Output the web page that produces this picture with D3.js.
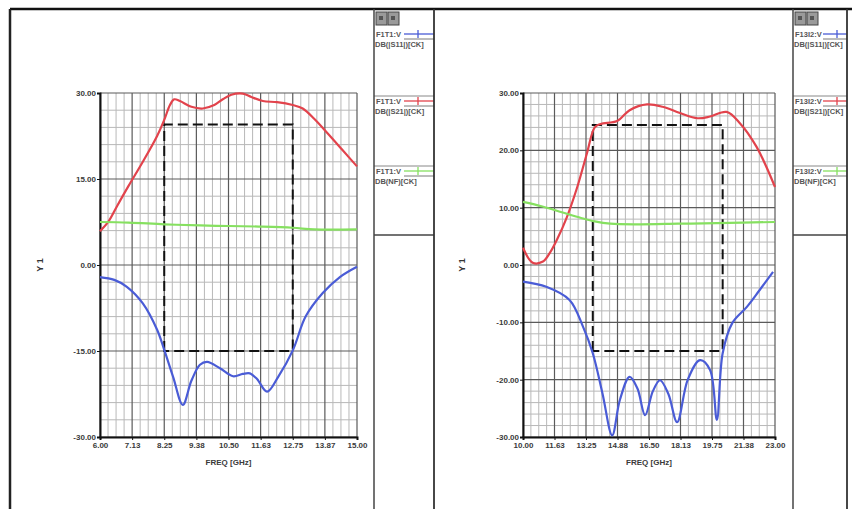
<!DOCTYPE html>
<html><head><meta charset="utf-8">
<script src="https://cdn.jsdelivr.net/npm/d3@7"></script>
<style>body{margin:0;background:#fff}svg{display:block}text{font-family:"Liberation Sans",Arial,sans-serif}</style>
</head><body><svg id="c" width="852" height="509"></svg>
<script>
// ---------- DATA ----------
const leftXTicks = [6, 7.125, 8.25, 9.375, 10.5, 11.625, 12.75, 13.875, 15];
const leftXLabels = ["6.00","7.13","8.25","9.38","10.50","11.63","12.75","13.87","15.00"];
const leftYTicks = [30, 15, 0, -15, -30];
const leftYLabels = ["30.00","15.00","0.00","-15.00","-30.00"];
const rightXTicks = [10, 11.625, 13.25, 14.875, 16.5, 18.125, 19.75, 21.375, 23];
const rightXLabels = ["10.00","11.63","13.25","14.88","16.50","18.13","19.75","21.38","23.00"];
const rightYTicks = [30, 20, 10, 0, -10, -20, -30];
const rightYLabels = ["30.00","20.00","10.00","0.00","-10.00","-20.00","-30.00"];

// left chart series [freq GHz, dB]
const leftS21 = [[6.0,5.9],[6.3,7.6],[6.6,10.3],[7.0,13.8],[7.5,18.0],[8.0,22.5],[8.25,25.3],[8.45,27.9],[8.6,28.9],[8.8,28.6],[9.2,27.6],[9.6,27.3],[10.0,27.9],[10.3,28.9],[10.6,29.7],[11.0,29.9],[11.3,29.3],[11.7,28.6],[12.2,28.4],[12.75,27.9],[13.1,27.3],[13.5,25.5],[14.0,22.8],[14.5,20.0],[15.0,17.2]];
const leftS11 = [[6.0,-2.1],[6.5,-2.6],[6.94,-3.8],[7.5,-6.7],[8.0,-11.3],[8.25,-14.8],[8.56,-19.5],[8.9,-24.4],[9.2,-20.2],[9.5,-17.4],[9.75,-16.9],[10.2,-18.0],[10.66,-19.4],[11.0,-19.0],[11.25,-18.9],[11.5,-19.9],[11.85,-22.1],[12.24,-19.5],[12.76,-14.8],[13.2,-9.0],[13.8,-4.9],[14.4,-2.1],[15.0,-0.3]];
const leftNF = [[6.0,7.5],[7.0,7.4],[8.25,7.1],[9.5,6.9],[10.5,6.8],[11.6,6.7],[12.75,6.5],[13.5,6.2],[15.0,6.2]];
const leftMaskX = [8.25, 12.75];
const leftMaskY = [-15, 24.5];

// right chart series
const rightS21 = [[10.0,3.0],[10.5,0.4],[11.03,0.6],[11.4,2.2],[11.75,4.4],[12.27,8.4],[12.8,13.6],[13.3,19.5],[13.7,24.0],[14.0,24.6],[14.85,25.1],[15.5,27.0],[16.4,28.0],[17.2,27.6],[18.1,26.5],[19.0,25.6],[19.65,25.9],[20.5,26.7],[21.2,24.7],[22.05,20.6],[23.0,13.6]];
const rightS11 = [[10.0,-2.9],[11.2,-3.8],[12.4,-6.1],[13.1,-10.8],[13.6,-15.4],[14.1,-22.4],[14.6,-29.7],[15.0,-23.5],[15.5,-19.5],[15.9,-21.5],[16.3,-26.2],[16.7,-22.0],[17.07,-20.1],[17.5,-22.5],[17.95,-27.4],[18.5,-20.0],[19.13,-16.6],[19.65,-18.3],[20.0,-27.0],[20.3,-15.4],[20.8,-10.1],[21.55,-7.3],[22.2,-4.4],[22.9,-1.2]];
const rightNF = [[10.0,11.0],[11.0,10.2],[12.0,9.2],[13.0,8.2],[13.7,7.6],[14.5,7.2],[16.0,7.1],[18.0,7.2],[20.0,7.3],[23.0,7.5]];
const rightMaskX = [13.6, 20.3];
const rightMaskY = [-15, 24.4];

const legendLeft = [["F1T1:V","DB(|S11|)[CK]"],["F1T1:V","DB(|S21|)[CK]"],["F1T1:V","DB(NF)[CK]"]];
const legendRight = [["F13I2:V","DB(|S11|)[CK]"],["F13I2:V","DB(|S21|)[CK]"],["F13I2:V","DB(NF)[CK]"]];
const seriesColors = ["#4a5cd6","#e2434c","#86e060"];

// ---------- DRAW ----------
const svg = d3.select("#c");
svg.append("rect").attr("width",852).attr("height",509).attr("fill","#fff");

function chart(cfg){
  const g = svg.append("g");
  const x = d3.scaleLinear().domain(cfg.xDomain).range([cfg.x0, cfg.x1]);
  const y = d3.scaleLinear().domain([-30,30]).range([cfg.y1, cfg.y0]);
  const xt = cfg.xTicks, yt = cfg.yTicks.slice().sort((a,b)=>a-b);
  const xMinor = [], yMinor = [];
  for(let i=0;i<xt.length-1;i++) for(let k=1;k<4;k++) xMinor.push(xt[i]+(xt[i+1]-xt[i])*k/4);
  for(let i=0;i<yt.length-1;i++) for(let k=1;k<5;k++) yMinor.push(yt[i]+(yt[i+1]-yt[i])*k/5);
  g.selectAll(".xm").data(xMinor).join("line").attr("x1",d=>x(d)).attr("x2",d=>x(d)).attr("y1",cfg.y0).attr("y2",cfg.y1).attr("stroke","#b8b8b8").attr("stroke-width",1);
  g.selectAll(".ym").data(yMinor).join("line").attr("y1",d=>y(d)).attr("y2",d=>y(d)).attr("x1",cfg.x0).attr("x2",cfg.x1).attr("stroke","#b8b8b8").attr("stroke-width",1);
  g.selectAll(".xM").data(xt).join("line").attr("x1",d=>x(d)).attr("x2",d=>x(d)).attr("y1",cfg.y0).attr("y2",cfg.y1).attr("stroke","#5a5a5a").attr("stroke-width",1.2);
  g.selectAll(".yM").data(yt).join("line").attr("y1",d=>y(d)).attr("y2",d=>y(d)).attr("x1",cfg.x0).attr("x2",cfg.x1).attr("stroke","#5a5a5a").attr("stroke-width",1.2);
  const ax = d3.axisBottom(x).tickValues(xt).tickFormat((d,i)=>cfg.xLabels[i]).tickSize(3).tickPadding(2);
  const ay = d3.axisLeft(y).tickValues(cfg.yTicks).tickFormat((d,i)=>cfg.yLabels[i]).tickSize(3).tickPadding(1);
  const gx = g.append("g").attr("transform",`translate(0,${cfg.y1})`).call(ax);
  const gy = g.append("g").attr("transform",`translate(${cfg.x0},0)`).call(ay);
  [gx,gy].forEach(a=>{
    a.select(".domain").attr("stroke","#111").attr("stroke-width",2);
    a.selectAll(".tick line").attr("stroke","#111");
    a.selectAll("text").attr("font-size",8).attr("font-weight","bold").attr("fill","#3a3a3a").style("font-family","'Liberation Sans',Arial,sans-serif");
  });
  g.append("text").attr("x",(cfg.x0+cfg.x1)/2).attr("y",cfg.y1+28).attr("text-anchor","middle").attr("font-size",8).attr("font-weight","bold").attr("fill","#3a3a3a").text("FREQ [GHz]");
  g.append("text").attr("transform",`translate(${cfg.yTitleX},${(cfg.y0+cfg.y1)/2}) rotate(-90)`).attr("text-anchor","middle").attr("font-size",9).attr("font-weight","bold").attr("fill","#333").text("Y 1");
  const mx = cfg.maskX, my = cfg.maskY;
  g.append("path").attr("d",`M${x(mx[0])},${y(my[0])}L${x(mx[0])},${y(my[1])}L${x(mx[1])},${y(my[1])}L${x(mx[1])},${y(my[0])}Z`)
    .attr("fill","none").attr("stroke","#111").attr("stroke-width",2).attr("stroke-dasharray","10,5");
  const line = d3.line().x(d=>x(d[0])).y(d=>y(d[1])).curve(d3.curveCatmullRom.alpha(0.5));
  [[cfg.s11,0],[cfg.s21,1],[cfg.nf,2]].forEach(([s,i])=>{
    g.append("path").datum(s).attr("d",line).attr("fill","none").attr("stroke",seriesColors[i]).attr("stroke-width",2.2).attr("stroke-linejoin","round");
  });
}

chart({xDomain:[6,15],x0:100,x1:357,y0:93,y1:437,xTicks:leftXTicks,xLabels:leftXLabels,yTicks:leftYTicks,yLabels:leftYLabels,yTitleX:43,maskX:leftMaskX,maskY:leftMaskY,s21:leftS21,s11:leftS11,nf:leftNF});
chart({xDomain:[10,23],x0:523,x1:775,y0:93,y1:437,xTicks:rightXTicks,xLabels:rightXLabels,yTicks:rightYTicks,yLabels:rightYLabels,yTitleX:465,maskX:rightMaskX,maskY:rightMaskY,s21:rightS21,s11:rightS11,nf:rightNF});

svg.append("line").attr("x1",10).attr("x2",852).attr("y1",9).attr("y2",9).attr("stroke","#111").attr("stroke-width",2.5);
svg.append("line").attr("x1",10).attr("x2",10).attr("y1",9).attr("y2",509).attr("stroke","#222").attr("stroke-width",2.5);

function legendPanel(xl, xr, entries){
  const g = svg.append("g");
  const clipId = "clip"+xl;
  g.append("clipPath").attr("id",clipId).append("rect").attr("x",xl).attr("y",9).attr("width",xr-xl).attr("height",230);
  const inner = g.append("g").attr("clip-path",`url(#${clipId})`);
  [0,1].forEach(i=>{
    inner.append("rect").attr("x",xl+2+i*12).attr("y",12).attr("width",11).attr("height",13).attr("fill","#9a9a9a").attr("stroke","#444").attr("stroke-width",1);
    inner.append("rect").attr("x",xl+5+i*12).attr("y",16).attr("width",4).attr("height",4).attr("fill","#555");
  });
  const rowsY = [37, 104, 174];
  entries.forEach((e,i)=>{
    const yy = rowsY[i];
    inner.append("text").attr("x",xl+2).attr("y",yy).attr("font-size",7.5).attr("font-weight","bold").attr("fill","#555").text(e[0]);
    inner.append("line").attr("x1",xl+30).attr("x2",xr).attr("y1",yy-3).attr("y2",yy-3).attr("stroke",seriesColors[i]).attr("stroke-width",1.3);
    inner.append("line").attr("x1",xl+44).attr("x2",xl+44).attr("y1",yy-7).attr("y2",yy+1).attr("stroke",seriesColors[i]).attr("stroke-width",1.3);
    inner.append("line").attr("x1",xl+30).attr("x2",xr).attr("y1",yy+2).attr("y2",yy+2).attr("stroke","#555").attr("stroke-width",0.8);
    inner.append("text").attr("x",xl+1).attr("y",yy+10).attr("font-size",7.5).attr("font-weight","bold").attr("fill","#555").text(e[1]);
    if(i>0) inner.append("line").attr("x1",xl).attr("x2",xr).attr("y1",yy-8).attr("y2",yy-8).attr("stroke","#888").attr("stroke-width",1);
  });
  g.append("line").attr("x1",xl).attr("x2",xr).attr("y1",235).attr("y2",235).attr("stroke","#444").attr("stroke-width",1.5);
  g.append("line").attr("x1",xl).attr("x2",xl).attr("y1",9).attr("y2",509).attr("stroke","#444").attr("stroke-width",1.5);
  g.append("line").attr("x1",xr).attr("x2",xr).attr("y1",9).attr("y2",509).attr("stroke","#333").attr("stroke-width",1.8);
}
legendPanel(374, 434, legendLeft);
legendPanel(793, 847, legendRight);
</script></body></html>
